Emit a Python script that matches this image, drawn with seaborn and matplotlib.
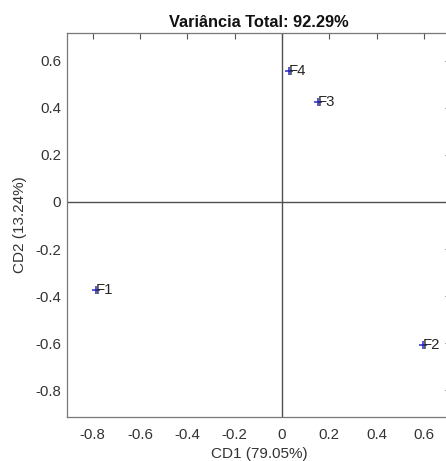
import matplotlib
matplotlib.use("Agg")
import matplotlib.pyplot as plt
import seaborn as sns
import pandas as pd

labels = ["F1", "F2", "F3", "F4"]
cd1 = [-0.784, 0.598, 0.154, 0.031]
cd2 = [-0.374, -0.609, 0.426, 0.557]
xticks = [-0.8, -0.6, -0.4, -0.2, 0, 0.2, 0.4, 0.6]
yticks = [-0.8, -0.6, -0.4, -0.2, 0, 0.2, 0.4, 0.6]
title = "Variância Total: 92.29%"
xlabel = "CD1 (79.05%)"
ylabel = "CD2 (13.24%)"

sns.set_style("white")
plt.rcParams["font.family"] = ["Liberation Sans", "DejaVu Sans"]

df = pd.DataFrame({"CD1": cd1, "CD2": cd2, "label": labels})

W, H = 446, 461
fig = plt.figure(figsize=(W / 100, H / 100), dpi=100)
left, right = 66.7, 451.0
top, bottom = 32.7, 416.7
ax = fig.add_axes([left / W, (H - bottom) / H, (right - left) / W, (bottom - top) / H])

ax.axhline(0, color="#505050", lw=1.0, zorder=1)
ax.axvline(0, color="#505050", lw=1.0, zorder=1)

sns.scatterplot(data=df, x="CD1", y="CD2", marker="+", color="#2828c8",
                s=36, linewidth=1.1, ax=ax, zorder=3, legend=False)
for _, r in df.iterrows():
    ax.text(r["CD1"] - 0.004, r["CD2"], r["label"], fontsize=10.8, color="#262626",
            ha="left", va="center", zorder=4)

ax.set_xlim(-0.91, 0.715)
ax.set_ylim(-0.912, 0.719)
ax.set_xticks(xticks)
ax.set_yticks(yticks)
ax.set_xticklabels([("0" if v == 0 else f"{v:g}") for v in xticks])
ax.set_yticklabels([("0" if v == 0 else f"{v:g}") for v in yticks])
ax.tick_params(direction="in", length=4, width=0.8, color="#555555",
               labelsize=10.8, labelcolor="#333333", top=True, right=True,
               pad=4)
ax.tick_params(axis="x", pad=8)
for sp in ax.spines.values():
    sp.set_color("#777777")
    sp.set_linewidth(0.9)

ax.set_title(title, fontsize=11.8, fontweight="bold", color="#111111", pad=4)
ax.set_xlabel(xlabel, fontsize=11, color="#333333", labelpad=4)
ax.set_ylabel(ylabel, fontsize=11, color="#333333", labelpad=6)

fig.savefig("out.png", dpi=100)
